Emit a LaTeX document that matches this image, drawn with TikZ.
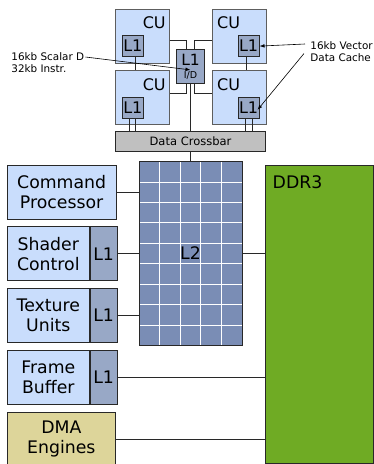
\documentclass[tikz,border=0pt]{standalone}
\usepackage{fontspec}
\setmainfont{DejaVu Sans}
\usetikzlibrary{positioning, calc, arrows.meta}

\definecolor{cublue}{RGB}{201,221,252}
\definecolor{cachegray}{RGB}{152,168,198}
\definecolor{ltwoblue}{RGB}{122,141,181}
\definecolor{ddrgreen}{RGB}{111,171,36}
\definecolor{xbargray}{RGB}{192,192,192}
\definecolor{dmatan}{RGB}{221,213,154}
\definecolor{edge}{RGB}{40,40,40}

\begin{document}
\begin{tikzpicture}[x=1pt, y=-1pt, >={Latex[length=5pt,width=3.6pt]}, line width=0.8pt]
    % Define block styles
    \tikzstyle{cu} = [rectangle, draw=edge!75, fill=cublue, minimum width=53.5pt, minimum height=54pt, inner sep=0pt]
    \tikzstyle{culabel} = [inner sep=0pt, font=\fontsize{16pt}{18pt}\selectfont]
    \tikzstyle{smallcache} = [rectangle, draw=edge, fill=cachegray, minimum width=21pt, minimum height=21pt, inner sep=0pt, font=\fontsize{16pt}{18pt}\selectfont]
    \tikzstyle{unit} = [rectangle, draw=edge, fill=cublue, minimum width=82pt, minimum height=54pt, inner sep=0pt, align=center, font=\fontsize{17.3pt}{20pt}\selectfont]
    \tikzstyle{sidecache} = [rectangle, draw=edge, fill=cachegray, minimum width=27pt, minimum height=54pt, inner sep=0pt, font=\fontsize{17.3pt}{20pt}\selectfont]
    \tikzstyle{note} = [inner sep=1pt, align=left, font=\fontsize{10.4pt}{12pt}\selectfont]
    \tikzstyle{wire} = [draw=edge, line width=0.7pt]

    \useasboundingbox (0,0) rectangle (374,464);

    % Place compute units
    \node [cu] (cu1) at (142.45,36) {};
    \node [cu, right=42.6pt of cu1] (cu2) {};
    \node [cu, below=7pt of cu1] (cu3) {};
    \node [cu, below=7pt of cu2] (cu4) {};
    \node [culabel, below left=7.7pt and 3.5pt of cu1.north east] (cu1lbl) {CU};
    \node [culabel, below right=7.7pt and 4.5pt of cu2.north west] (cu2lbl) {CU};
    \node [culabel, below left=7.7pt and 3.5pt of cu3.north east] (cu3lbl) {CU};
    \node [culabel, below right=7.7pt and 4.5pt of cu4.north west] (cu4lbl) {CU};

    % Place small caches inside compute units
    \node [smallcache, above right=6.4pt and 6.6pt of cu1.south west] (l1tl) {L1};
    \node [smallcache, above left=6.4pt and 7pt of cu2.south east] (l1tr) {L1};
    \node [smallcache, above right=6.4pt and 6.6pt of cu3.south west] (l1bl) {L1};
    \node [smallcache, above left=6.4pt and 7pt of cu4.south east] (l1br) {L1};

    % Shared cache and crossbar
    \node [smallcache, minimum width=27.5pt, minimum height=34pt, align=center, font=\fontsize{15.5pt}{17pt}\selectfont] (l1c) at (190.5,66.4) {L1\\[-4pt]{\fontsize{9.5pt}{11pt}\selectfont I/D}};
    \node [rectangle, draw=edge, fill=xbargray, minimum width=149.6pt, minimum height=19.3pt, inner sep=0pt, font=\fontsize{11.5pt}{13pt}\selectfont] (xbar) at (190.5,141.3) {Data Crossbar};

    % Place left column
    \node [unit, minimum width=108.7pt] (cmd) at (61.65,192) {Command\\Processor};
    \node [unit, below right=7pt and 0pt of cmd.south west] (shader) {Shader\\Control};
    \node [sidecache, right=0pt of shader] (shaderl1) {L1};
    \node [unit, below right=7pt and 0pt of shader.south west] (texture) {Texture\\Units};
    \node [sidecache, right=0pt of texture] (texturel1) {L1};
    \node [unit, below right=7pt and 0pt of texture.south west] (frame) {Frame\\Buffer};
    \node [sidecache, right=0pt of frame] (framel1) {L1};
    \node [unit, fill=dmatan, minimum width=108pt, below right=7pt and 0pt of frame.south west] (dma) {DMA\\Engines};

    % L2 with its grid
    \node [rectangle, fill=ltwoblue, minimum width=102pt, minimum height=183pt, inner sep=0pt, font=\fontsize{17.3pt}{20pt}\selectfont] (l2) at (190.5,253.5) {L2};
    \foreach \i in {1,...,4}
        \draw [white, line width=0.9pt] ($(l2.north west)!\i/5!(l2.north east)$) -- ($(l2.south west)!\i/5!(l2.south east)$);
    \foreach \j in {1,...,8}
        \draw [white, line width=0.9pt] ($(l2.north west)!\j/9!(l2.south west)$) -- ($(l2.north east)!\j/9!(l2.south east)$);
    \draw [edge] (l2.north west) rectangle (l2.south east);

    % Memory
    \node [rectangle, draw=edge, fill=ddrgreen, minimum width=108.3pt, minimum height=298.5pt, inner sep=0pt] (ddr) at (319.15,314.25) {};
    \node [inner sep=0pt, font=\fontsize{17.3pt}{20pt}\selectfont, below right=11pt and 7.7pt of ddr.north west] (ddrlbl) {DDR3};

    % Draw connections around the compute units
    \draw [wire] ([yshift=-4pt]cu1.east) -| ([xshift=-3.8pt]l1c.north);
    \draw [wire] ([yshift=-4pt]cu2.west) -| ([xshift=3.8pt]l1c.north);
    \draw [wire] ([xshift=-3.8pt]l1c.south) |- ([yshift=4.3pt]cu3.east);
    \draw [wire] ([xshift=3.8pt]l1c.south) |- ([yshift=4.3pt]cu4.west);
    \draw [wire] (l1c.south) -- (xbar.north);
    \draw [wire] ([xshift=3pt]l1tl.south) -- ([xshift=3pt]l1tl.south |- cu3.north);
    \draw [wire] ([xshift=-2pt]l1tr.south) -- ([xshift=-2pt]l1tr.south |- cu4.north);
    \draw [wire] ([xshift=-3pt]l1bl.south) -- ([xshift=-3pt]l1bl.south |- xbar.north);
    \draw [wire] ([xshift=2.7pt]l1bl.south) -- ([xshift=2.7pt]l1bl.south |- xbar.north);
    \draw [wire] ([xshift=-2.8pt]l1br.south) -- ([xshift=-2.8pt]l1br.south |- xbar.north);
    \draw [wire] ([xshift=3.9pt]l1br.south) -- ([xshift=3.9pt]l1br.south |- xbar.north);
    \draw [wire] (xbar.south) -- (l2.north);

    % Draw connections to L2 and memory
    \draw [wire] (cmd.east) -- (cmd.east -| l2.west);
    \draw [wire] (shaderl1.east) -- (shaderl1.east -| l2.west);
    \draw [wire] (texturel1.east) -- (texturel1.east -| l2.west);
    \draw [wire] (l2.east) -- (l2.east -| ddr.west);
    \draw [wire] (framel1.east) -- (framel1.east -| ddr.west);
    \draw [wire] (dma.east) -- (dma.east -| ddr.west);

    % Add notes with arrows
    \node [note, anchor=north west] (scalarlbl) at (10,51) {16kb Scalar D\\32kb Instr.};
    \node [note, anchor=north west] (vectorlbl) at (309,40.5) {16kb Vector\\Data Cache};
    \draw [->, line width=0.6pt] ([yshift=-6pt]scalarlbl.north east) -- ([yshift=-3.5pt]l1c.center);
    \draw [->, line width=0.6pt] ([xshift=-4pt, yshift=-3.5pt]vectorlbl.north west) -- (l1tr.east);
    \draw [->, line width=0.6pt] ([xshift=-5pt, yshift=-13pt]vectorlbl.north west) -- ([xshift=-2pt, yshift=-2pt]l1br.east);

\end{tikzpicture}
\end{document}
